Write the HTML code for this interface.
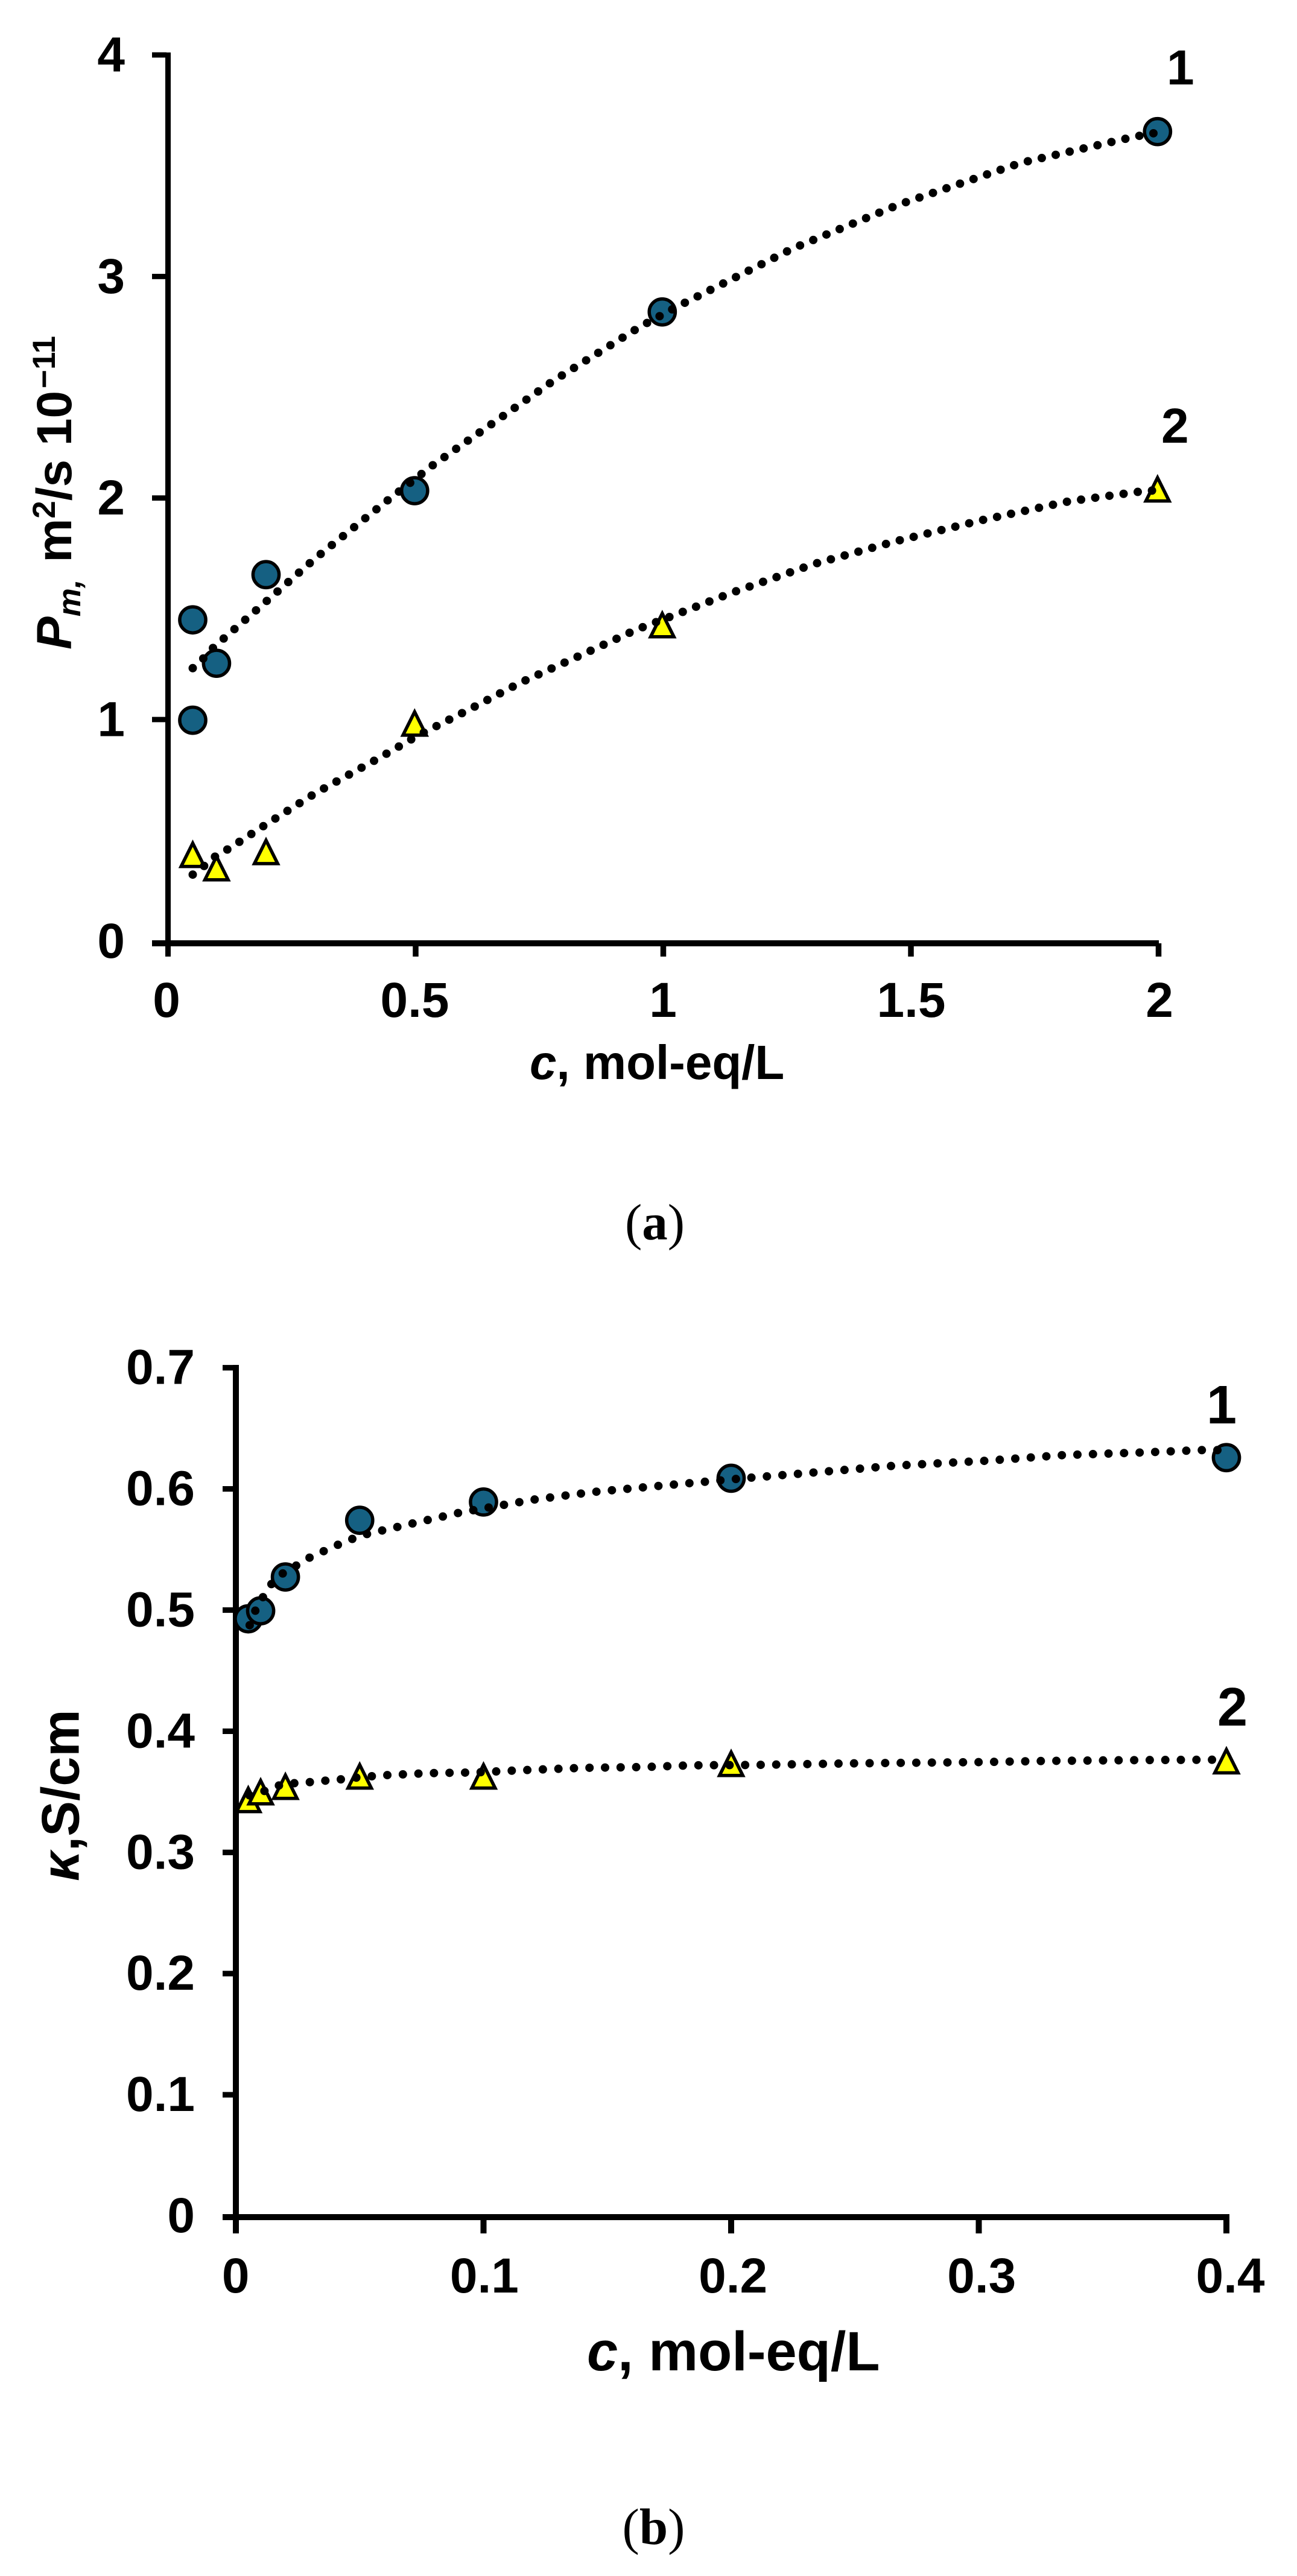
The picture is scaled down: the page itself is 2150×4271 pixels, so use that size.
<!DOCTYPE html>
<html lang="en">
<head>
<meta charset="utf-8">
<title>Membrane permeability and conductivity vs concentration</title>
<style>
html,body{margin:0;padding:0;background:#fff;width:2150px;height:4271px;overflow:hidden}
svg{display:block}
text{fill:#000;font-family:"Liberation Sans",Arial,sans-serif;font-weight:bold}
.serif{font-family:"Liberation Serif","Times New Roman",serif;font-weight:normal}
</style>
</head>
<body>
<svg id="figure" xmlns="http://www.w3.org/2000/svg" width="2150" height="4271" viewBox="0 0 2150 4271">
  <rect x="0" y="0" width="2150" height="4271" fill="#fff"/>

  <g id="chartA"></g>
  <g id="chartB"></g>

  <text transform="translate(118,1077) rotate(-90)" font-size="82"><tspan font-style="italic">P</tspan><tspan font-style="italic" font-size="53" dy="15">m,</tspan><tspan dy="-15" dx="5"> m</tspan><tspan font-size="53" dy="-27">2</tspan><tspan dy="27">/s 10</tspan><tspan font-size="53" dy="-27" dx="4">−11</tspan></text>
  <text x="878" y="1789" font-size="80"><tspan font-style="italic">c</tspan>, mol-eq/L</text>
  <text x="1934" y="140" font-size="82">1</text>
  <text x="1925" y="734" font-size="82">2</text>
  <text class="serif" x="1085.5" y="2055" font-size="85" text-anchor="middle">(<tspan font-weight="bold">a</tspan>)</text>

  <text transform="translate(130.5,3119) rotate(-90)" font-size="88"><tspan font-style="italic">κ</tspan>,S/cm</text>
  <text x="973" y="3930" font-size="92"><tspan font-style="italic">c</tspan>, mol-eq/L</text>
  <text x="2000" y="2360" font-size="90">1</text>
  <text x="2018" y="2861" font-size="90">2</text>
  <text class="serif" x="1083.5" y="4218" font-size="85" text-anchor="middle">(<tspan font-weight="bold">b</tspan>)</text>
</svg>

<script>
// ---- Chart (a) data ----
const aXTicks = [0, 0.5, 1, 1.5, 2];
const aXTickLabels = ["0", "0.5", "1", "1.5", "2"];
const aYTicks = [0, 1, 2, 3, 4];
const aYTickLabels = ["0", "1", "2", "3", "4"];
const aConc1 = [0.052, 0.052, 0.1, 0.2, 0.5, 1, 2];
const aPerm1 = [1.45, 0.997, 1.254, 1.654, 2.033, 2.84, 3.654];
const aConc2 = [0.052, 0.1, 0.2, 0.5, 1, 2];
const aPerm2 = [0.393, 0.333, 0.406, 0.986, 1.43, 2.043];
const aTrendConc1 = [0.052, 0.073, 0.094, 0.187, 0.299, 0.443, 0.536, 0.78, 0.955, 1.031, 1.264, 1.477, 1.724, 1.954, 2];
const aTrendPerm1 = [1.232, 1.275, 1.326, 1.507, 1.727, 1.985, 2.147, 2.529, 2.773, 2.865, 3.127, 3.324, 3.513, 3.631, 3.65];
const aTrendConc2 = [0.052, 0.078, 0.1, 0.125, 0.1995, 0.3, 0.428, 0.505, 0.609, 0.714, 0.846, 0.949, 1.031, 1.14, 1.306, 1.475, 1.647, 1.821, 1.971, 2];
const aTrendPerm2 = [0.3, 0.344, 0.387, 0.417, 0.526, 0.668, 0.826, 0.926, 1.044, 1.167, 1.301, 1.407, 1.477, 1.572, 1.702, 1.807, 1.901, 1.985, 2.031, 2.035];

// ---- Chart (b) data ----
const bXTicks = [0, 0.1, 0.2, 0.3, 0.4];
const bXTickLabels = ["0", "0.1", "0.2", "0.3", "0.4"];
const bYTicks = [0, 0.1, 0.2, 0.3, 0.4, 0.5, 0.6, 0.7];
const bYTickLabels = ["0", "0.1", "0.2", "0.3", "0.4", "0.5", "0.6", "0.7"];
const bConc = [0.005, 0.01, 0.02, 0.05, 0.1, 0.2, 0.4];
const bCond1 = [0.4928, 0.4994, 0.5273, 0.5741, 0.5892, 0.6088, 0.6258];
const bCond2 = [0.344, 0.3504, 0.3549, 0.3634, 0.3634, 0.3738, 0.376];
const bTrendConc1 = [0.00558, 0.00797, 0.01104, 0.01447, 0.01907, 0.02387, 0.02916, 0.03993, 0.05052, 0.06797, 0.09101, 0.1204, 0.1445, 0.1688, 0.2053, 0.2297, 0.2665, 0.3034, 0.3342, 0.3653, 0.39, 0.4];
const bTrendCond1 = [0.4875, 0.5001, 0.511, 0.5218, 0.5305, 0.5361, 0.5427, 0.5528, 0.5616, 0.5699, 0.5807, 0.5912, 0.5975, 0.6021, 0.6088, 0.6129, 0.6192, 0.6233, 0.6279, 0.63, 0.632, 0.632];
const bTrendConc2 = [0.0055, 0.0112, 0.0164, 0.0226, 0.0288, 0.0346, 0.0408, 0.0468, 0.0591, 0.0777, 0.0965, 0.115, 0.14, 0.1651, 0.1838, 0.2088, 0.25, 0.3, 0.328, 0.3662, 0.3979, 0.4];
const bTrendCond2 = [0.3471, 0.3504, 0.3549, 0.357, 0.3578, 0.359, 0.3599, 0.3614, 0.3636, 0.3654, 0.366, 0.3678, 0.3698, 0.3705, 0.3719, 0.3722, 0.3735, 0.3745, 0.3755, 0.3762, 0.3765, 0.3765];

// ---- Axis functions ----
const NS = "http://www.w3.org/2000/svg";
const xA = v => 276.8 + 821 * v;
const yA = v => 1560.3 - 367.3 * v;
const xB = v => 391 + 4105 * v;
const yB = v => 3674 - 2009 * v;

const BLUE = "#156082";
const YELLOW = "#ffff00";

function svgEl(tag, parent) {
  const el = document.createElementNS(NS, tag);
  parent.appendChild(el);
  return el;
}
function rect(parent, x, y, w, h) {
  const el = svgEl("rect", parent);
  el.setAttribute("x", x);
  el.setAttribute("y", y);
  el.setAttribute("width", w);
  el.setAttribute("height", h);
  el.setAttribute("fill", "#000");
  return el;
}
function label(parent, x, y, str, anchor) {
  const el = svgEl("text", parent);
  el.setAttribute("x", x);
  el.setAttribute("y", y);
  el.setAttribute("font-size", "82");
  el.setAttribute("text-anchor", anchor);
  el.textContent = str;
  return el;
}
function circle(parent, cx, cy) {
  const el = svgEl("circle", parent);
  el.setAttribute("cx", cx);
  el.setAttribute("cy", cy);
  el.setAttribute("r", 21.6);
  el.setAttribute("fill", BLUE);
  el.setAttribute("stroke", "#000");
  el.setAttribute("stroke-width", 5.5);
  return el;
}
function triangle(parent, cx, cy) {
  const el = svgEl("path", parent);
  el.setAttribute("d", "M" + cx + " " + (cy - 17.9) + "L" + (cx + 19.3) + " " + (cy + 20.7) + "L" + (cx - 19.3) + " " + (cy + 20.7) + "Z");
  el.setAttribute("fill", YELLOW);
  el.setAttribute("stroke", "#000");
  el.setAttribute("stroke-width", 5.5);
  el.setAttribute("stroke-miterlimit", 10);
  return el;
}
function trend(parent, xs, ys, fx, fy, gap) {
  const el = svgEl("path", parent);
  el.setAttribute("d", xs.map((v, i) => (i ? "L" : "M") + fx(v).toFixed(1) + " " + fy(ys[i]).toFixed(1)).join(""));
  el.setAttribute("fill", "none");
  el.setAttribute("stroke", "#000");
  el.setAttribute("stroke-width", 14);
  el.setAttribute("stroke-linecap", "round");
  el.setAttribute("stroke-linejoin", "round");
  el.setAttribute("stroke-dasharray", "0 " + gap);
  return el;
}

// ---- Chart (a) ----
const gA = document.getElementById("chartA");

const aYLine = rect(gA, 274, 87, 9, 1499);



const aXLine = rect(gA, 252, 1559, 1669, 10);



aYTicks.forEach((v, i) => {
  if (v !== 0) {
    const tick = rect(gA, 252, yA(v) - 4.4, 24, 8.8);
    
    
  }
  const t = label(gA, 207, yA(v) + 27.5, aYTickLabels[i], "end");
  
  
});
aXTicks.forEach((v, i) => {
  const cx = xA(v) + 1.7;
  if (v !== 0) {
    const tick = rect(gA, cx - 4.75, 1564, 9.5, 22);
    
    
  }
  const t = label(gA, 276 + 823 * v, 1686, aXTickLabels[i], "middle");
  
  
});
aConc1.forEach((v, i) => {
  const m = circle(gA, xA(v), yA(aPerm1[i]));
  
  
});
aConc2.forEach((v, i) => {
  const m = triangle(gA, xA(v), yA(aPerm2[i]));
  
  
});
const aLine1 = trend(gA, aTrendConc1, aTrendPerm1, xA, yA, 23.7);


const aLine2 = trend(gA, aTrendConc2, aTrendPerm2, xA, yA, 23.7);



// ---- Chart (b) ----
const gB = document.getElementById("chartB");

const bYLine = rect(gB, 386, 2263, 10, 1440);



const bXLine = rect(gB, 369, 3671, 1669, 10);



bYTicks.forEach((v, i) => {
  if (v !== 0) {
    const tick = rect(gB, 369, yB(v) - 4.6, 20, 9.2);
    
    
  }
  const t = label(gB, 323, yB(v) + 27, bYTickLabels[i], "end");
  
  
});
bXTicks.forEach((v, i) => {
  if (v !== 0) {
    const tick = rect(gB, xB(v) - 5, 3676, 10, 27);
    
    
  }
  const t = label(gB, 390.7 + 4122 * v, 3801, bXTickLabels[i], "middle");
  
  
});
bConc.forEach((v, i) => {
  const m = circle(gB, xB(v), yB(bCond1[i]));
  
  
});
bConc.forEach((v, i) => {
  const m = triangle(gB, xB(v), yB(bCond2[i]));
  
  
});
const bLine1 = trend(gB, bTrendConc1, bTrendCond1, xB, yB, 25.8);


const bLine2 = trend(gB, bTrendConc2, bTrendCond2, xB, yB, 25.8);


</script>
</body>
</html>
